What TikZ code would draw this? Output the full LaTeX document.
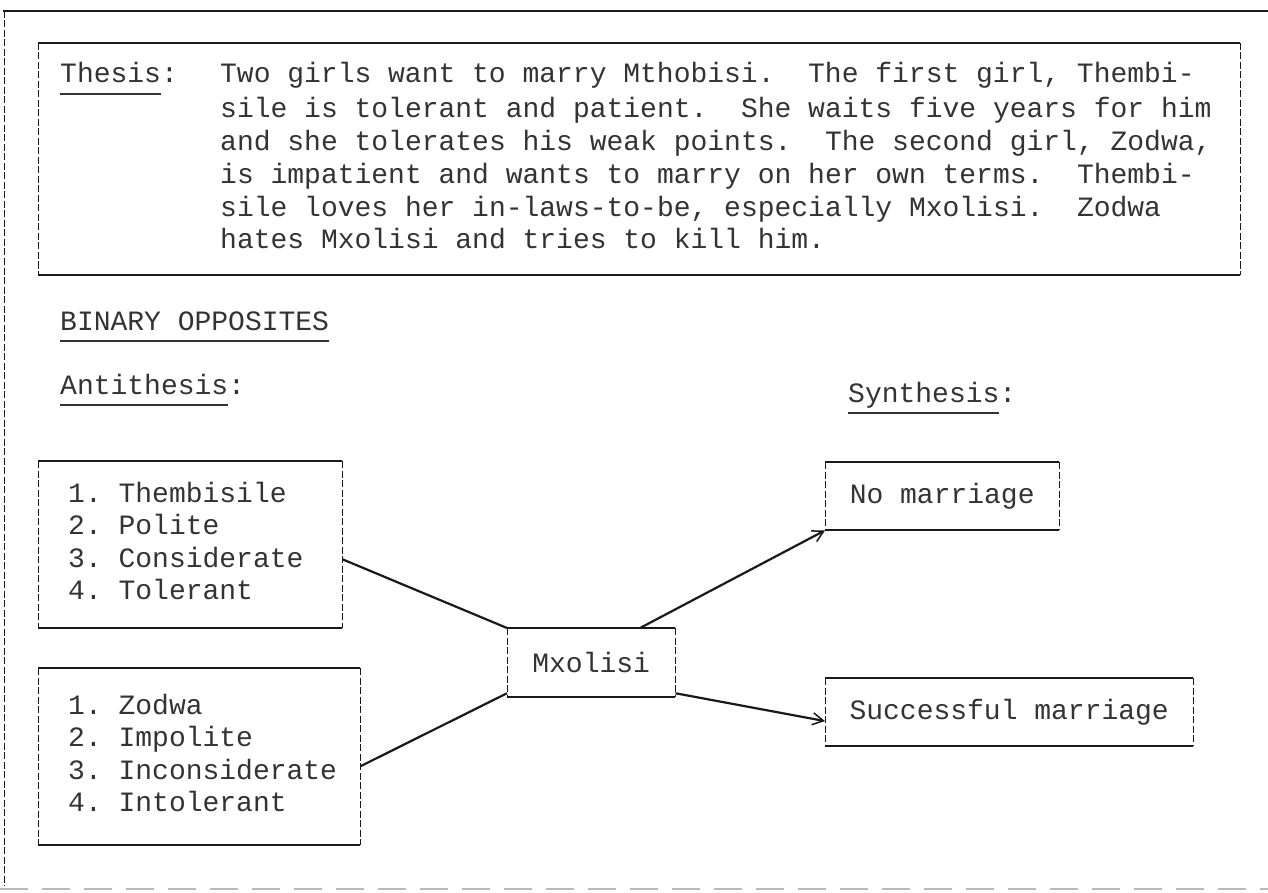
\documentclass[tikz,border=0pt]{standalone}
\usepackage{fontspec}
\newfontfamily\tw{Liberation Mono}
\usetikzlibrary{arrows.meta,calc}
\definecolor{ink}{gray}{0.1}
\definecolor{txt}{gray}{0.2}
\frenchspacing
\newcommand\twfont[1]{\tw\fontsize{28}{#1}\selectfont}
\newcommand\tul[1]{\leavevmode\setbox0\hbox{#1}\rlap{\rule[-12pt]{\wd0}{1.8pt}}\box0}
\newcommand\drawtbox[1]{%
  \draw[hl] (#1.north west) -- (#1.north east) (#1.south west) -- (#1.south east);
  \draw[vl] (#1.north west) -- (#1.south west) (#1.north east) -- (#1.south east);}
\tikzset{
  hl/.style={draw=ink, line width=2pt},
  vl/.style={draw=ink, line width=1pt, dash pattern=on 7pt off 2.5pt},
  conn/.style={draw=ink, line width=2.2pt},
  arr/.style={conn, -{Straight Barb[length=11pt,width=12pt,line width=1.5pt]}},
  tbox/.style={anchor=north west, inner ysep=0pt, text=txt, font=\twfont{32.5}},
  lbl/.style={inner sep=0pt, text=txt, font=\twfont{31}},
}
\begin{document}
\begin{tikzpicture}[x=1pt,y=-1pt]
\useasboundingbox (0,0) rectangle (1268,893);
% outer frame (page border)
\draw[hl] (3,11) -- (1268,11);
\draw[vl] (4,11) -- (4,886);
\draw[gray!55, line width=1.6pt, dash pattern=on 28pt off 14pt] (0,889) -- (1268,889);

% thesis box
\node[tbox, inner xsep=22pt, minimum width=1202pt, minimum height=232pt,
      font=\twfont{32.8}] (thesis) at (38,43) {%
\makebox[1158pt][l]{\begin{tabular}{@{}l@{}l@{}}
\makebox[160pt][l]{\tul{Thesis}:} & Two girls want to marry Mthobisi.~~The first girl, Thembi-\\
 & sile is tolerant and patient.~~She waits five years for him\\
 & and she tolerates his weak points.~~The second girl, Zodwa,\\
 & is impatient and wants to marry on her own terms.~~Thembi-\\
 & sile loves her in-laws-to-be, especially Mxolisi.~~Zodwa\\
 & hates Mxolisi and tries to kill him.
\end{tabular}}};
\drawtbox{thesis}

% headings
\node[lbl, anchor=base west] (binary) at (60,330) {\tul{BINARY OPPOSITES}};
\node[lbl, anchor=base west] (anti) at (60,394) {\tul{Antithesis}:};
\node[lbl, anchor=base west] (syn) at (848,402) {\tul{Synthesis}:};

% antithesis boxes
\node[tbox, inner xsep=30pt, minimum width=304pt, minimum height=167pt] (thembi) at (38,461)
  {\makebox[244pt][l]{\begin{tabular}{@{}l@{}}1. Thembisile\\2. Polite\\3. Considerate\\4. Tolerant\end{tabular}}};
\drawtbox{thembi}
\node[tbox, inner xsep=30pt, minimum width=322pt, minimum height=177pt] (zodwa) at (38,668)
  {\makebox[262pt][l]{\begin{tabular}{@{}l@{}}1. Zodwa\\2. Impolite\\3. Inconsiderate\\4. Intolerant\end{tabular}}};
\drawtbox{zodwa}

% centre
\node[tbox, inner xsep=0pt, minimum width=168pt, minimum height=69pt] (mx) at (507,628) {Mxolisi};
\drawtbox{mx}

% synthesis boxes
\node[tbox, inner xsep=0pt, minimum width=234pt, minimum height=68pt] (nomar) at (825,462) {No marriage};
\drawtbox{nomar}
\node[tbox, inner xsep=0pt, minimum width=368pt, minimum height=68pt] (succ) at (825,678) {Successful marriage};
\drawtbox{succ}

% connectors
\draw[conn] ($(thembi.north east)!0.587!(thembi.south east)$) -- (mx.north west);
\draw[conn] ($(zodwa.north east)!0.554!(zodwa.south east)$) -- ($(mx.north west)!0.94!(mx.south west)$);
\draw[arr] ($(mx.north west)!0.79!(mx.north east)$) -- (nomar.south west);
\draw[arr] ($(mx.north east)!0.94!(mx.south east)$) -- ($(succ.north west)!0.63!(succ.south west)$);
\end{tikzpicture}
\end{document}
